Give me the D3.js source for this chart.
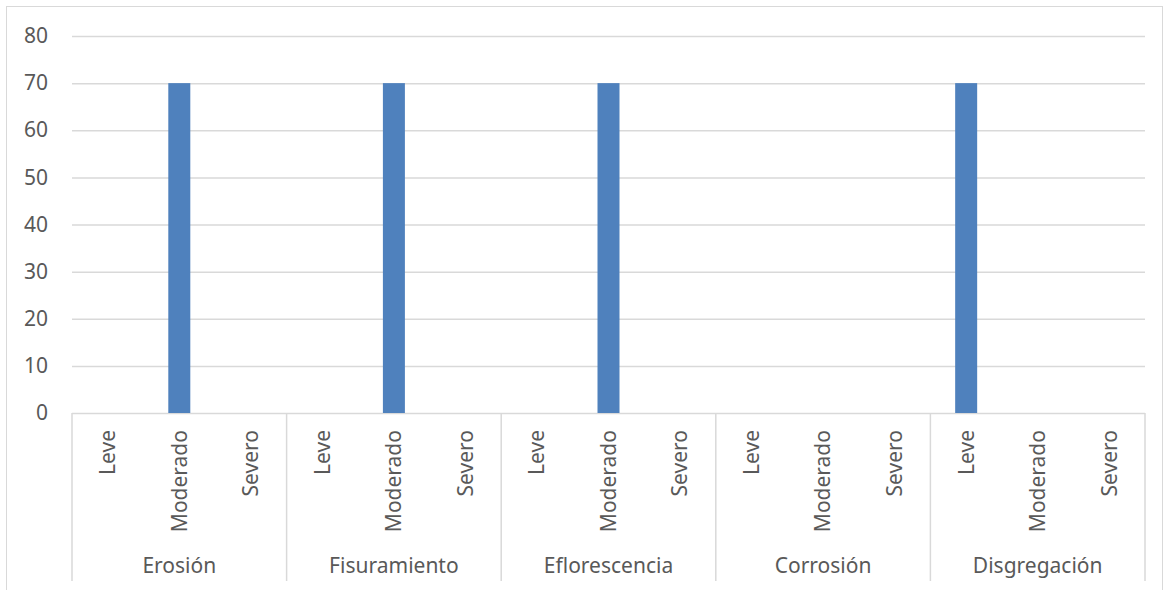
<!DOCTYPE html>
<html>
<head>
<meta charset="utf-8">
<script src="https://cdn.jsdelivr.net/npm/d3@7"></script>
<style>
  html, body { margin: 0; padding: 0; background: #fff; }
  svg text { font-family: "Noto Sans", "Open Sans", sans-serif; fill: #595959; }
</style>
</head>
<body>
<svg id="chart" width="1169" height="590"></svg>
<script>
// Damage types (outer categories) and severity levels (inner categories)
const groups = ["Erosión", "Fisuramiento", "Eflorescencia", "Corrosión", "Disgregación"];
const levels = ["Leve", "Moderado", "Severo"];
// Percentage per damage type, in the order of `levels`
const erosion       = [0, 70, 0];
const fisuramiento  = [0, 70, 0];
const eflorescencia = [0, 70, 0];
const corrosion     = [0, 0, 0];
const disgregacion  = [70, 0, 0];
const seriesValues = [erosion, fisuramiento, eflorescencia, corrosion, disgregacion];
const yTicks = [0, 10, 20, 30, 40, 50, 60, 70, 80];

const rows = [];
groups.forEach((g, i) => levels.forEach((l, j) => rows.push({ group: g, level: l, value: seriesValues[i][j] })));

const svg = d3.select("#chart");
const W = 1169, H = 590;
const plot = { left: 72, right: 1145, top: 36, bottom: 413 };
const gridColor = "#d9d9d9";
const fontSize = 21;

// Chart frame
svg.append("rect")
  .attr("x", 6.5).attr("y", 6.5)
  .attr("width", W - 13).attr("height", H - 6)
  .attr("fill", "#fff").attr("stroke", gridColor).attr("stroke-width", 1);

const x0 = d3.scaleBand().domain(groups).range([plot.left, plot.right]).padding(0);
const x1 = d3.scaleBand().domain(levels).range([0, x0.bandwidth()]).padding(0);
const y = d3.scaleLinear().domain([0, 80]).range([plot.bottom, plot.top]);

// Horizontal gridlines and value labels
const yAxis = d3.axisLeft(y).tickValues(yTicks).tickSize(-(plot.right - plot.left)).tickPadding(24);
const ya = svg.append("g").attr("transform", `translate(${plot.left},0)`)
  .attr("font-size", fontSize).attr("font-family", "\"Noto Sans\", sans-serif")
  .call(yAxis);
ya.select(".domain").remove();
ya.selectAll(".tick line").attr("stroke", gridColor).attr("stroke-width", 1.5);
ya.selectAll(".tick text").attr("font-size", fontSize).attr("fill", "#595959");

// Bars
const barW = 22;
svg.append("g").selectAll("rect")
  .data(rows)
  .join("rect")
  .attr("x", d => x0(d.group) + x1(d.level) + x1.bandwidth() / 2 - barW / 2)
  .attr("width", barW)
  .attr("y", d => y(d.value))
  .attr("height", d => y(0) - y(d.value))
  .attr("fill", "#4f81bd");

// Category axis: group dividers
const catBottom = 581;
const dividers = groups.map(g => x0(g)).concat([plot.right]);
svg.append("g").selectAll("line")
  .data(dividers)
  .join("line")
  .attr("x1", d => d).attr("x2", d => d)
  .attr("y1", plot.bottom).attr("y2", catBottom)
  .attr("stroke", gridColor).attr("stroke-width", 1.5);

// Severity labels (rotated)
svg.append("g").selectAll("text")
  .data(rows)
  .join("text")
  .attr("transform", d => `translate(${x0(d.group) + x1(d.level) + x1.bandwidth() / 2},430) rotate(-90)`)
  .attr("text-anchor", "end")
  .attr("dy", "0.35em")
  .attr("font-size", fontSize)
  .text(d => d.level);

// Damage type labels
svg.append("g").selectAll("text")
  .data(groups)
  .join("text")
  .attr("x", d => x0(d) + x0.bandwidth() / 2)
  .attr("y", 573)
  .attr("text-anchor", "middle")
  .attr("font-size", fontSize)
  .text(d => d);
</script>
</body>
</html>
